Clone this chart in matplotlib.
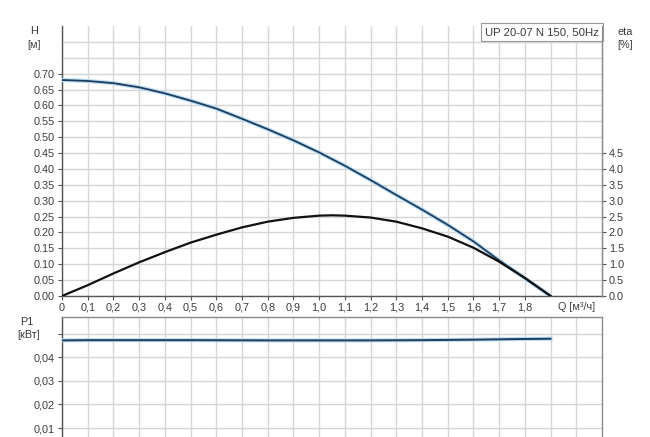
import matplotlib
matplotlib.use("Agg")
import matplotlib.pyplot as plt
from matplotlib.ticker import FixedLocator, FuncFormatter

plt.rcParams['font.family'] = ['Liberation Sans', 'DejaVu Sans']

# ---- data ----
q_h = [0.0, 0.1, 0.2, 0.3, 0.4, 0.5, 0.6, 0.7, 0.8, 0.9, 1.0, 1.1, 1.2, 1.3, 1.4, 1.5, 1.6, 1.7, 1.8, 1.9]
h_vals = [0.680, 0.677, 0.670, 0.657, 0.638, 0.615, 0.590, 0.558, 0.525, 0.490, 0.452,
          0.410, 0.365, 0.318, 0.272, 0.224, 0.172, 0.112, 0.056, 0.0]
q_eta = [0.0, 0.1, 0.2, 0.3, 0.4, 0.5, 0.6, 0.7, 0.8, 0.9, 1.0, 1.05, 1.1, 1.2, 1.3, 1.4, 1.5, 1.6, 1.7, 1.8, 1.9]
eta_vals = [0.0, 0.34, 0.71, 1.06, 1.38, 1.68, 1.93, 2.16, 2.34, 2.46, 2.53, 2.54, 2.53,
            2.47, 2.34, 2.13, 1.87, 1.52, 1.08, 0.57, 0.0]
q_p1 = [0.0, 0.1, 0.3, 0.5, 0.8, 1.0, 1.2, 1.4, 1.6, 1.8, 1.9]
p1_vals = [0.0471, 0.0472, 0.0472, 0.0472, 0.0471, 0.0471, 0.0471, 0.0472, 0.0474, 0.0477, 0.0478]

x_ticks = [0.0, 0.1, 0.2, 0.3, 0.4, 0.5, 0.6, 0.7, 0.8, 0.9, 1.0, 1.1, 1.2, 1.3, 1.4, 1.5, 1.6, 1.7, 1.8]
x_labels = ["0", "0,1", "0,2", "0,3", "0,4", "0,5", "0,6", "0,7", "0,8", "0,9", "1,0",
            "1,1", "1,2", "1,3", "1,4", "1,5", "1,6", "1,7", "1,8"]
x_grid = [i / 10 for i in range(0, 21)]
h_ticks = [i * 0.05 for i in range(0, 15)]
h_grid = [i * 0.05 for i in range(0, 17)]
eta_ticks = [i * 0.5 for i in range(0, 10)]
p1_ticks = [0.01, 0.02, 0.03, 0.04, 0.05]
title_text = "UP 20-07 N 150, 50Hz"

# ---- styles ----
txt = "#3a3a3a"
grid_c = "#d6d6d6"
spine_dark = "#555555"
spine_light = "#8a8a8a"
blue_dark = "#1e3d5c"
blue_glow = "#b9dcf5"
fs = 7.8

fig = plt.figure(figsize=(6.5, 4.37), dpi=100)
ax = fig.add_axes([62/650, 1-296/437, 540/650, 270/437])
axb = fig.add_axes([62/650, 1-451.7/437, 540/650, 134.7/437])

def style(a):
    a.set_xlim(0, 2.1)
    for s in ['top', 'right', 'bottom', 'left']:
        a.spines[s].set_color(spine_light)
        a.spines[s].set_linewidth(1.0)
    a.spines['left'].set_color(spine_dark)
    a.tick_params(axis='both', which='major', colors=spine_dark, labelcolor=txt, labelsize=fs,
                  length=3, width=0.8, direction='out', pad=2)
    a.tick_params(axis='both', which='minor', length=0)
    a.xaxis.set_minor_locator(FixedLocator(x_grid))
    a.grid(True, which='both', axis='x', color=grid_c, lw=1.0)
    a.set_axisbelow(True)

# top axes
style(ax)
ax.set_ylim(0, 0.85)
ax.spines['top'].set_visible(False)
ax.spines['bottom'].set_color(spine_dark)
ax.xaxis.set_major_locator(FixedLocator(x_ticks))
ax.set_xticklabels(x_labels)
ax.yaxis.set_major_locator(FixedLocator(h_ticks))
ax.yaxis.set_major_formatter(FuncFormatter(lambda v, p: f"{v:.2f}"))
ax.yaxis.set_minor_locator(FixedLocator(h_grid))
ax.grid(True, which='both', axis='y', color=grid_c, lw=1.0)

ax2 = ax.twinx()
ax2.set_ylim(0, 8.5)
ax2.spines['top'].set_visible(False)
ax2.spines['right'].set_color(spine_light)
ax2.spines['left'].set_visible(False)
ax2.spines['bottom'].set_visible(False)
ax2.yaxis.set_major_locator(FixedLocator(eta_ticks))
ax2.yaxis.set_major_formatter(FuncFormatter(lambda v, p: f"{v:.1f}"))
ax2.tick_params(axis='y', colors=spine_dark, labelcolor=txt, labelsize=fs,
                length=3, width=0.8, direction='out', pad=2)

ax.plot(q_h, h_vals, color=blue_glow, lw=3.0, solid_capstyle='round', zorder=3)
ax.plot(q_h, h_vals, color=blue_dark, lw=1.3, zorder=4)
ax2.plot(q_eta, eta_vals, color="#111111", lw=1.6, zorder=4)

ax.text(2.0, -0.035, "Q [м³/ч]", ha='center', va='center', fontsize=fs, color=txt,
        transform=ax.transData, clip_on=False)
ax.text(0.995, 0.995, title_text, transform=ax.transAxes, ha='right', va='top',
        fontsize=8.2, color=txt, zorder=6,
        bbox=dict(boxstyle='square,pad=0.35', fc='white', ec='#9a9a9a', lw=0.8))

# bottom axes
style(axb)
axb.set_ylim(0, 0.057)
axb.spines['bottom'].set_visible(False)
axb.set_xticks([])
axb.xaxis.set_minor_locator(FixedLocator(x_grid))
axb.grid(True, which='minor', axis='x', color=grid_c, lw=1.0)
axb.yaxis.set_major_locator(FixedLocator(p1_ticks))
axb.yaxis.set_major_formatter(FuncFormatter(lambda v, p: "" if v > 0.045 else f"{v:.2f}".replace(".", ",")))
axb.grid(True, which='major', axis='y', color=grid_c, lw=1.0)
axb.plot(q_p1, p1_vals, color=blue_glow, lw=3.0, zorder=3)
axb.plot(q_p1, p1_vals, color=blue_dark, lw=1.4, zorder=4)

# axis captions
fig.text(34/650, 1-31/437, "H", ha='center', va='center', fontsize=fs, color=txt)
fig.text(34/650, 1-45/437, "[м]", ha='center', va='center', fontsize=fs, color=txt)
fig.text(625/650, 1-32/437, "eta", ha='center', va='center', fontsize=fs, color=txt)
fig.text(625/650, 1-45/437, "[%]", ha='center', va='center', fontsize=fs, color=txt)
fig.text(27/650, 1-322/437, "P1", ha='center', va='center', fontsize=fs, color=txt)
fig.text(29/650, 1-335/437, "[кВт]", ha='center', va='center', fontsize=fs, color=txt)

fig.savefig("out.png", dpi=100)
